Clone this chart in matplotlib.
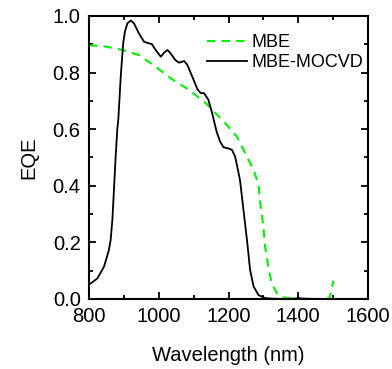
import matplotlib
matplotlib.use('Agg')
import matplotlib.pyplot as plt
from matplotlib.ticker import MultipleLocator

plt.rcParams['font.family'] = ['Liberation Sans', 'DejaVu Sans']

# MBE (green dashed)
wl_mbe = [800, 848, 896, 943, 991, 1039, 1087, 1135, 1160, 1186, 1224, 1248,
          1272, 1286, 1291, 1299, 1305, 1315, 1324, 1339, 1358, 1380, 1406,
          1450, 1488, 1492, 1501]
eqe_mbe = [0.897, 0.892, 0.88, 0.862, 0.821, 0.776, 0.739, 0.692, 0.66,
           0.628, 0.574, 0.515, 0.456, 0.405, 0.338, 0.267, 0.185, 0.108,
           0.055, 0.020, 0.006, 0.002, 0.0, 0.0, 0.002, 0.014, 0.065]

# MBE-MOCVD (black solid)
wl_mocvd = [800, 805, 824, 843, 857, 862, 867, 872, 877, 881, 884, 891, 898,
            903, 910, 920, 929, 943, 958, 970, 980, 991, 1006, 1015, 1025,
            1034, 1047, 1058, 1073, 1082, 1096, 1111, 1120, 1130, 1142, 1152,
            1166, 1176, 1186, 1200, 1210, 1219, 1227, 1233, 1243, 1253, 1262,
            1272, 1286, 1305, 1330, 1367, 1395, 1400, 1405, 1450, 1495]
eqe_mocvd = [0.053, 0.055, 0.073, 0.114, 0.173, 0.208, 0.279, 0.397, 0.515,
             0.597, 0.633, 0.786, 0.904, 0.945, 0.974, 0.984, 0.974, 0.939,
             0.909, 0.904, 0.901, 0.88, 0.856, 0.870, 0.88, 0.868, 0.845,
             0.835, 0.841, 0.827, 0.786, 0.741, 0.728, 0.727, 0.705, 0.662,
             0.591, 0.556, 0.536, 0.532, 0.527, 0.503, 0.456, 0.42, 0.314,
             0.208, 0.102, 0.044, 0.014, 0.003, 0.001, 0.0, 0.002, 0.006,
             0.002, 0.0, 0.0]

fig = plt.figure(figsize=(3.92, 3.69), dpi=100)
ax = fig.add_axes([89 / 392, 1 - 299 / 369, 279 / 392, 283 / 369])

ax.plot(wl_mbe, eqe_mbe, color='#00ee00', lw=1.5, dashes=(4, 3), label='MBE')
ax.plot(wl_mocvd, eqe_mocvd, color='black', lw=1.3, label='MBE-MOCVD')

ax.set_xlim(800, 1600)
ax.set_ylim(0, 1.0)
ax.xaxis.set_major_locator(MultipleLocator(200))
ax.xaxis.set_minor_locator(MultipleLocator(100))
ax.yaxis.set_major_locator(MultipleLocator(0.2))
ax.yaxis.set_minor_locator(MultipleLocator(0.1))
ax.yaxis.set_major_formatter(plt.FuncFormatter(lambda v, p: '%.1f' % v))
ax.tick_params(which='both', direction='in', top=True, right=True,
               labelsize=14.5, width=1.3)
ax.tick_params(which='major', length=5)
ax.tick_params(which='minor', length=3)
ax.tick_params(axis='x', pad=6)
ax.tick_params(axis='y', pad=6)
for s in ax.spines.values():
    s.set_linewidth(1.5)

ax.set_xlabel('Wavelength (nm)', fontsize=14.5, labelpad=14)
ax.set_ylabel('EQE', fontsize=14.5, labelpad=10)

ax.legend(loc='upper right', frameon=False, fontsize=13, handlelength=2.2,
          handletextpad=0.3, labelspacing=0.15, borderaxespad=0.3,
          bbox_to_anchor=(1.03, 0.98))

fig.savefig('out.png', dpi=100)
